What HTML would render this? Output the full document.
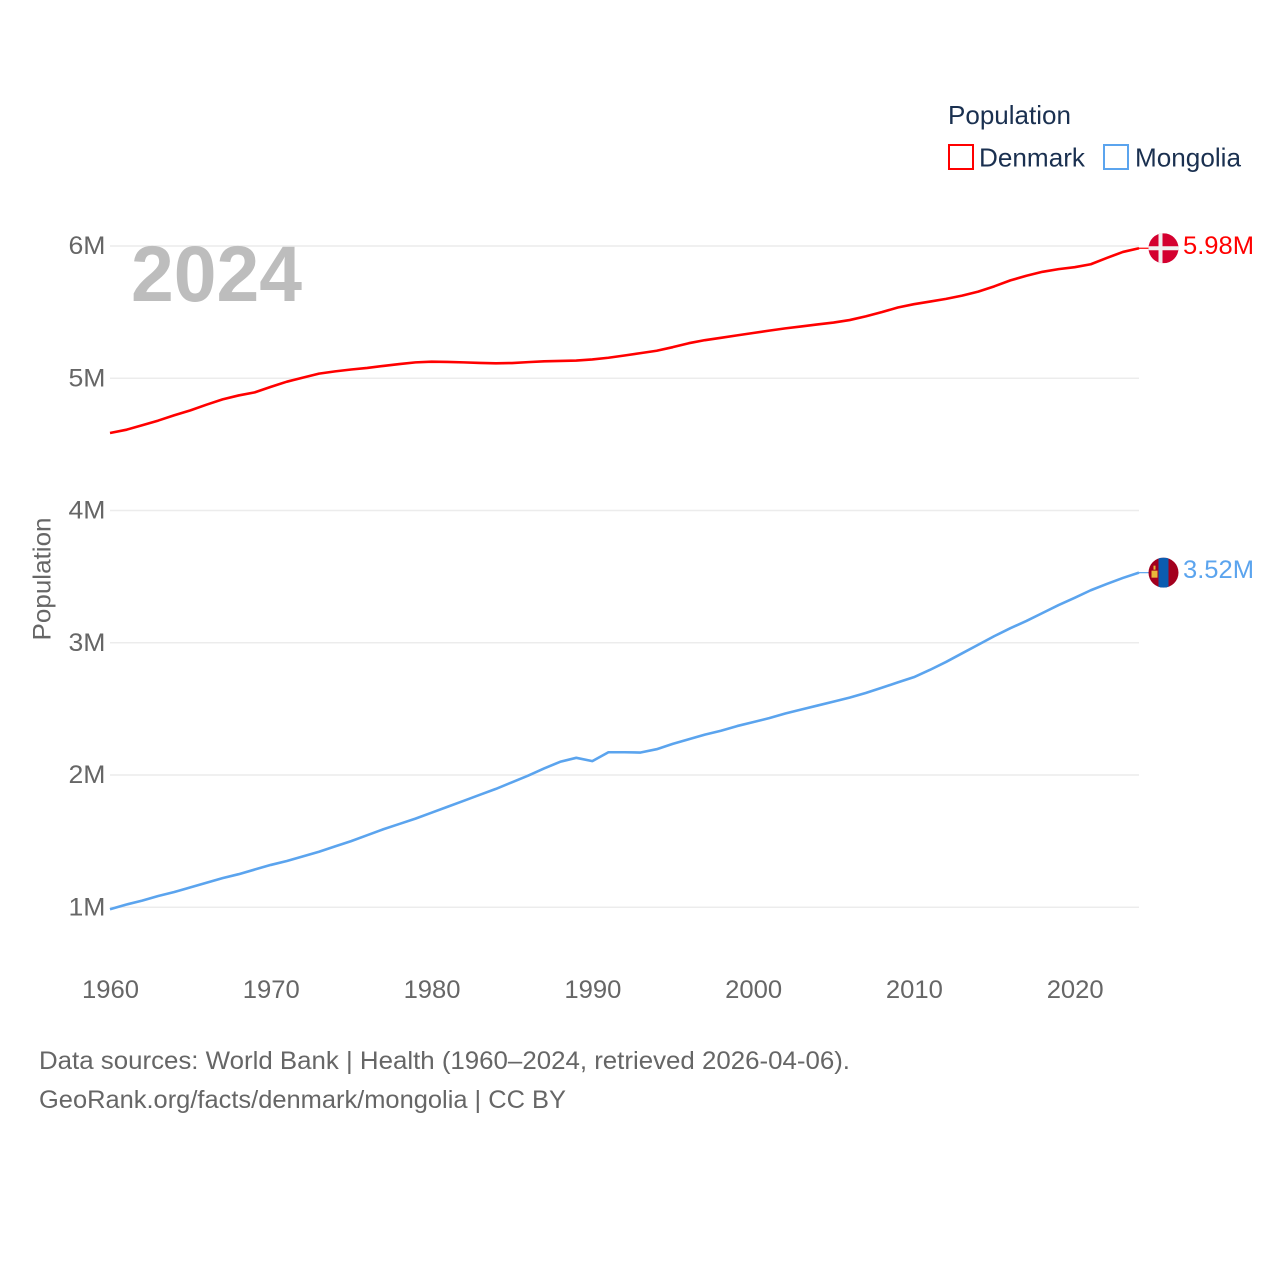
<!DOCTYPE html>
<html lang="en">
<head>
<meta charset="utf-8">
<title>Population: Denmark and Mongolia</title>
<style>
html,body{margin:0;padding:0;background:#fff;width:1280px;height:1280px;overflow:hidden}
svg{display:block}
text{font-family:"Liberation Sans",sans-serif}
</style>
</head>
<body>
<svg id="chart" width="1280" height="1280" viewBox="0 0 1280 1280" xmlns="http://www.w3.org/2000/svg">
  <defs>
    <clipPath id="clip-dk"><circle cx="0" cy="0" r="15"></circle></clipPath>
    <clipPath id="clip-mn"><circle cx="0" cy="0" r="15"></circle></clipPath>
  </defs>
  <g id="grid"></g>
  <text x="131" y="301" font-size="79" font-weight="700" fill="#bdbdbd" textLength="171" lengthAdjust="spacingAndGlyphs">2024</text>
  <g id="y-ticks"></g>
  <g id="x-ticks"></g>
  <text transform="translate(50.5,579) rotate(-90)" text-anchor="middle" font-size="25" fill="#666" textLength="123" lengthAdjust="spacingAndGlyphs">Population</text>
  <g id="series"></g>

  <g>
    <text x="948" y="124" font-size="26" fill="#1a3050" textLength="123" lengthAdjust="spacingAndGlyphs">Population</text>
    <rect x="949" y="145" width="24" height="24" fill="#fff" stroke="#ff0000" stroke-width="2"></rect>
    <text x="979" y="166.5" font-size="26" fill="#1a3050" textLength="106" lengthAdjust="spacingAndGlyphs">Denmark</text>
    <rect x="1104" y="145" width="24" height="24" fill="#fff" stroke="#5ba4ee" stroke-width="2"></rect>
    <text x="1135" y="166.5" font-size="26" fill="#1a3050" textLength="106" lengthAdjust="spacingAndGlyphs">Mongolia</text>
  </g>

  <g id="flag-dk">
    <g clip-path="url(#clip-dk)">
      <rect x="-15" y="-15" width="30" height="30" fill="#d4002f"></rect>
      <rect x="-5" y="-15" width="4" height="30" fill="#f0f0f0"></rect>
      <rect x="-15" y="-2" width="30" height="4" fill="#f0f0f0"></rect>
    </g>
  </g>
  <g id="flag-mn">
    <g clip-path="url(#clip-mn)">
      <rect x="-15" y="-15" width="30" height="30" fill="#a3001e"></rect>
      <rect x="-5" y="-15" width="10" height="30" fill="#0b5cb0"></rect>
      <rect x="-12" y="-2" width="6" height="7" fill="#e8b93a"></rect>
      <rect x="-10" y="-7" width="2" height="4" fill="#e8b93a"></rect>
    </g>
  </g>
  <g id="end-labels"></g>

  <text x="39" y="1069" font-size="25" fill="#666" textLength="811" lengthAdjust="spacingAndGlyphs">Data sources: World Bank | Health (1960–2024, retrieved 2026-04-06).</text>
  <text x="39" y="1108" font-size="25" fill="#666" textLength="527" lengthAdjust="spacingAndGlyphs">GeoRank.org/facts/denmark/mongolia | CC BY</text>
</svg>
<script>
const years = [1960,1961,1962,1963,1964,1965,1966,1967,1968,1969,1970,1971,1972,1973,1974,1975,1976,1977,1978,1979,1980,1981,1982,1983,1984,1985,1986,1987,1988,1989,1990,1991,1992,1993,1994,1995,1996,1997,1998,1999,2000,2001,2002,2003,2004,2005,2006,2007,2008,2009,2010,2011,2012,2013,2014,2015,2016,2017,2018,2019,2020,2021,2022,2023,2024];
const denmark = [4.586,4.61,4.645,4.68,4.72,4.757,4.80,4.84,4.87,4.893,4.935,4.974,5.005,5.035,5.052,5.066,5.078,5.093,5.107,5.12,5.125,5.123,5.12,5.116,5.113,5.115,5.122,5.128,5.131,5.134,5.142,5.155,5.172,5.19,5.208,5.235,5.265,5.288,5.306,5.324,5.342,5.36,5.377,5.392,5.407,5.421,5.44,5.468,5.50,5.535,5.56,5.58,5.60,5.625,5.655,5.695,5.74,5.775,5.805,5.825,5.84,5.862,5.91,5.955,5.983];
const mongolia = [0.985,1.02,1.05,1.085,1.115,1.15,1.185,1.22,1.25,1.285,1.32,1.35,1.385,1.42,1.46,1.50,1.545,1.59,1.63,1.67,1.715,1.76,1.805,1.85,1.895,1.945,1.995,2.05,2.1,2.13,2.105,2.172,2.172,2.17,2.195,2.235,2.27,2.305,2.335,2.37,2.40,2.43,2.465,2.495,2.525,2.555,2.585,2.62,2.66,2.70,2.74,2.795,2.855,2.92,2.985,3.05,3.11,3.165,3.225,3.285,3.34,3.397,3.445,3.49,3.53];
const yTicks = [1,2,3,4,5,6];
const yTickLabels = ["1M","2M","3M","4M","5M","6M"];
const xTicks = [1960,1970,1980,1990,2000,2010,2020];
const xTickLabels = ["1960","1970","1980","1990","2000","2010","2020"];
const endLabels = ["5.98M","3.52M"];

const NS = "http://www.w3.org/2000/svg";
const xMin = 1960, xMax = 2024, pxLeft = 110, pxRight = 1139;
const yTop = 246, yPerUnit = 132.25, yTopValue = 6;
function xScale(v){ return pxLeft + (v - xMin) / (xMax - xMin) * (pxRight - pxLeft); }
function yScale(v){ return yTop + (yTopValue - v) * yPerUnit; }
function make(tag, attrs, parent){
  const el = document.createElementNS(NS, tag);
  for (const k in attrs) el.setAttribute(k, attrs[k]);
  parent.appendChild(el);
  return el;
}

const gridG = document.getElementById("grid");
const yG = document.getElementById("y-ticks");
yTicks.forEach(function(t, i){
  const line = make("line", {x1: pxLeft, x2: pxRight, y1: yScale(t), y2: yScale(t), stroke: "#ececec", "stroke-width": 1.5}, gridG);
  
  
  const label = make("text", {x: 105.5, y: yScale(t) + 8, "text-anchor": "end", "font-size": 25, fill: "#666", textLength: 37, lengthAdjust: "spacingAndGlyphs"}, yG);
  
  
  label.textContent = yTickLabels[i];
});

const xG = document.getElementById("x-ticks");
xTicks.forEach(function(t, i){
  const label = make("text", {x: xScale(t) + 0.5, y: 998, "text-anchor": "middle", "font-size": 25, fill: "#666", textLength: 57, lengthAdjust: "spacingAndGlyphs"}, xG);
  
  
  label.textContent = xTickLabels[i];
});

const seriesG = document.getElementById("series");
function pathFor(values){
  return values.map(function(v, i){
    return (i ? "L" : "M") + xScale(years[i]).toFixed(2) + " " + yScale(v).toFixed(2);
  }).join(" ");
}
const flagX = 1163.5;
function drawSeries(values, color, lineName, connectorName, flagId){
  const line = make("path", {d: pathFor(values), fill: "none", stroke: color, "stroke-width": 2.6, "stroke-linejoin": "round"}, seriesG);
  
  
  const endY = yScale(values[values.length - 1]);
  const conn = make("line", {x1: pxRight, x2: flagX - 14, y1: endY, y2: endY, stroke: color, "stroke-width": 1.2}, seriesG);
  
  
  document.getElementById(flagId).setAttribute("transform", "translate(" + flagX + "," + endY + ")");
}
drawSeries(denmark, "#ff0000", "denmark-line", "denmark-connector", "flag-dk");
drawSeries(mongolia, "#5ba4ee", "mongolia-line", "mongolia-connector", "flag-mn");

const endG = document.getElementById("end-labels");
const dkLabel = make("text", {x: 1183, y: yScale(denmark[denmark.length - 1]) + 5.75, "font-size": 25, fill: "#ff0000", textLength: 71, lengthAdjust: "spacingAndGlyphs"}, endG);


dkLabel.textContent = endLabels[0];
const mnLabel = make("text", {x: 1183, y: yScale(mongolia[mongolia.length - 1]) + 5.2, "font-size": 25, fill: "#5ba4ee", textLength: 71, lengthAdjust: "spacingAndGlyphs"}, endG);


mnLabel.textContent = endLabels[1];
</script>
</body>
</html>
